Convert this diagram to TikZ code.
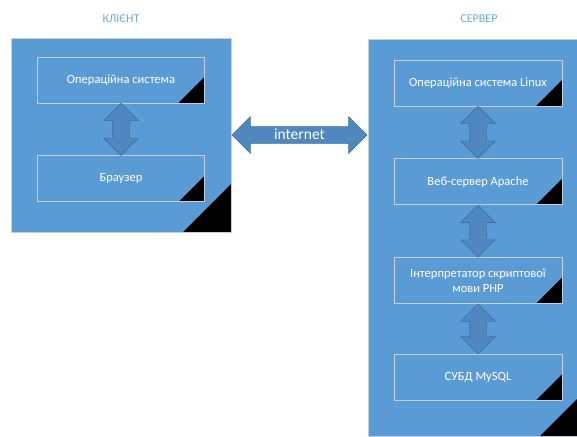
\documentclass[tikz,border=0pt]{standalone}
\usepackage{fontspec}
\setmainfont{Carlito}
\usetikzlibrary{positioning,calc,shapes.arrows}
\definecolor{panel}{HTML}{5B9BD5}
\definecolor{arrowfill}{HTML}{4F87BF}
\definecolor{arrowline}{HTML}{41719C}
\definecolor{boxline}{HTML}{C3CFDB}
\definecolor{titlecol}{HTML}{6FA8DC}
\begin{document}
\begin{tikzpicture}[x=1pt,y=1pt,
    panelbox/.style={draw=boxline, fill=panel, line width=0.8pt, minimum width=220pt,
      path picture={\fill[black] (path picture bounding box.south east) -- +(-48pt,0) -- +(0,48pt) -- cycle;}},
    layerbox/.style={draw=boxline, line width=0.8pt, minimum width=167pt, minimum height=46pt,
      text=white, font=\fontsize{12.5}{15}\selectfont, align=center, inner sep=0pt,
      path picture={\fill[black] (path picture bounding box.south east) -- +(-26pt,0) -- +(0,26pt) -- cycle;}},
    linkarrow/.style={double arrow, draw=arrowline, fill=arrowfill, line width=0.6pt,
      double arrow head extend=9pt, inner xsep=8pt, inner ysep=0pt, text height=0pt, text depth=0pt,
      text width=0pt, minimum width=34pt, shape border rotate=90, minimum height=52pt},
    heading/.style={text=titlecol, font=\fontsize{12}{14}\selectfont}]
    \useasboundingbox (0,0) rectangle (577,436);
    \begin{scope}
    \clip (0,0) rectangle (577,436);
    \node [panelbox, minimum height=194pt] (client) at (121,301) {};
    \node [panelbox, minimum height=397pt] (server) at (478,198.5) {};
    \end{scope}
    \node [heading] (clienttitle) at (121,417) {КЛІЄНТ};
    \node [heading] (servertitle) at (479,417) {СЕРВЕР};
    \node [layerbox, below=19pt of client.north] (clientos) {Операційна система};
    \node [layerbox, below=52pt of clientos] (browser) {Браузер};
    \node [layerbox, minimum width=168pt, below=21pt of server.north] (serveros) {Операційна система Linux};
    \node [layerbox, minimum width=168pt, below=52pt of serveros] (apache) {Веб-сервер Apache};
    \node [layerbox, minimum width=168pt, below=52pt of apache] (php) {Інтерпретатор скриптової\\мови PHP};
    \node [layerbox, minimum width=168pt, below=50pt of php] (mysql) {СУБД MySQL};
    \node [linkarrow] (a1) at ($(clientos.south)!0.5!(browser.north)$) {};
    \node [linkarrow] (a2) at ($(serveros.south)!0.5!(apache.north)$) {};
    \node [linkarrow] (a3) at ($(apache.south)!0.5!(php.north)$) {};
    \node [linkarrow, minimum height=50pt] (a4) at ($(php.south)!0.5!(mysql.north)$) {};
    \node [double arrow, draw=arrowline, fill=arrowfill, line width=0.6pt,
      minimum height=135pt, minimum width=36pt, double arrow head extend=10pt,
      inner xsep=0pt, inner ysep=3.5pt, text height=9pt, text depth=0pt,
      text=white, font=\fontsize{15.5}{18}\selectfont] (net)
      at ($(client.east)!0.5!(client.east -| server.west)$) {internet};
  \end{tikzpicture}
\end{document}
